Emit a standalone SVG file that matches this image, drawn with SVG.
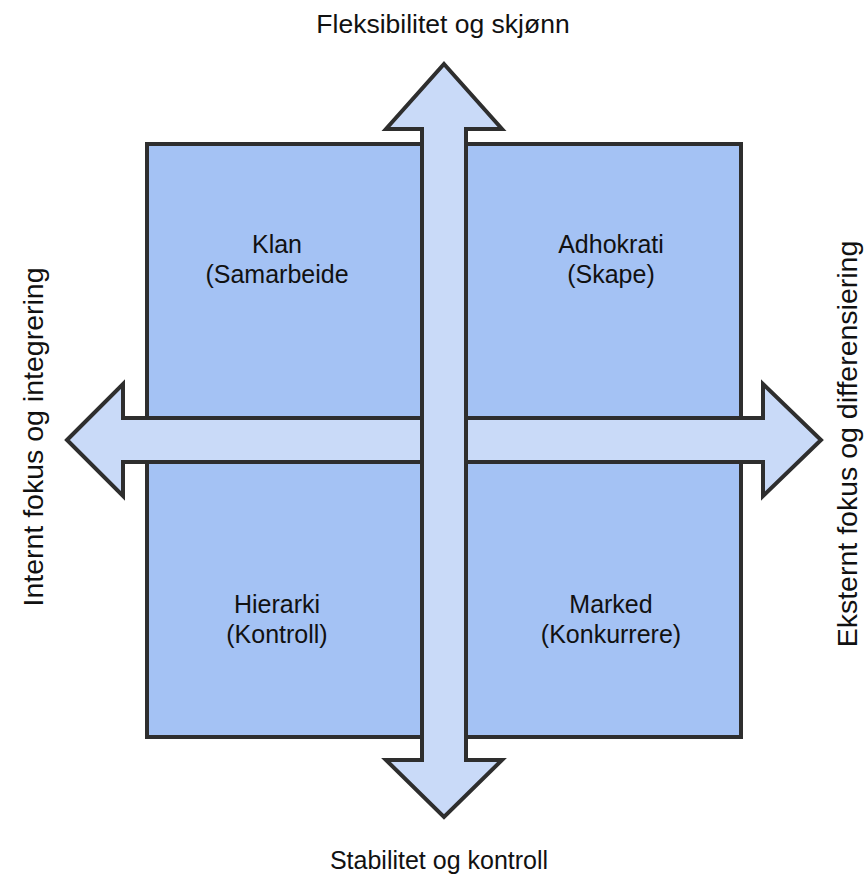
<svg xmlns="http://www.w3.org/2000/svg" width="865" height="876" viewBox="0 0 865 876">
<style>
.box{fill:#a4c2f4;stroke:#2e2e2e;stroke-width:4}
.arrow{fill:#c9daf8;stroke:#2e2e2e;stroke-width:4;stroke-linejoin:miter}
text{font-family:"Liberation Sans",Arial,sans-serif;font-size:25px;fill:#111;text-anchor:middle}
.side{font-size:28.5px}
.top{font-size:26.5px}
</style>
<rect width="865" height="876" fill="#fff"/>
<g id="quadrants">
<rect id="klan" class="box" x="147" y="144" width="297" height="296"/>
<rect id="adhokrati" class="box" x="444" y="144" width="297" height="296"/>
<rect id="hierarki" class="box" x="147" y="440" width="297" height="297"/>
<rect id="marked" class="box" x="444" y="440" width="297" height="297"/>
</g>
<g id="connectors">
<polygon id="h-arrow" class="arrow" points="67,440 123,384 123,418 763,418 763,384 821,440 763,496 763,462 123,462 123,496"/>
<polygon id="v-arrow" class="arrow" points="444,64 502,129 466,129 466,760 502,760 444,817 386,760 422,760 422,129 386,129"/>
</g>
<g id="label-klan"><text x="277" y="253">Klan</text><text x="277" y="283">(Samarbeide</text></g>
<g id="label-adhokrati"><text x="611" y="253">Adhokrati</text><text x="611" y="283">(Skape)</text></g>
<g id="label-hierarki"><text x="277" y="613">Hierarki</text><text x="277" y="643">(Kontroll)</text></g>
<g id="label-marked"><text x="611" y="613">Marked</text><text x="611" y="643">(Konkurrere)</text></g>
<g id="axis-labels">
<text class="top" x="443" y="33">Fleksibilitet og skjønn</text>
<text x="439" y="869">Stabilitet og kontroll</text>
<text class="side" transform="translate(43,437) rotate(-90)">Internt fokus og integrering</text>
<text class="side" transform="translate(857,444) rotate(-90)">Eksternt fokus og differensiering</text>
</g>
</svg>
